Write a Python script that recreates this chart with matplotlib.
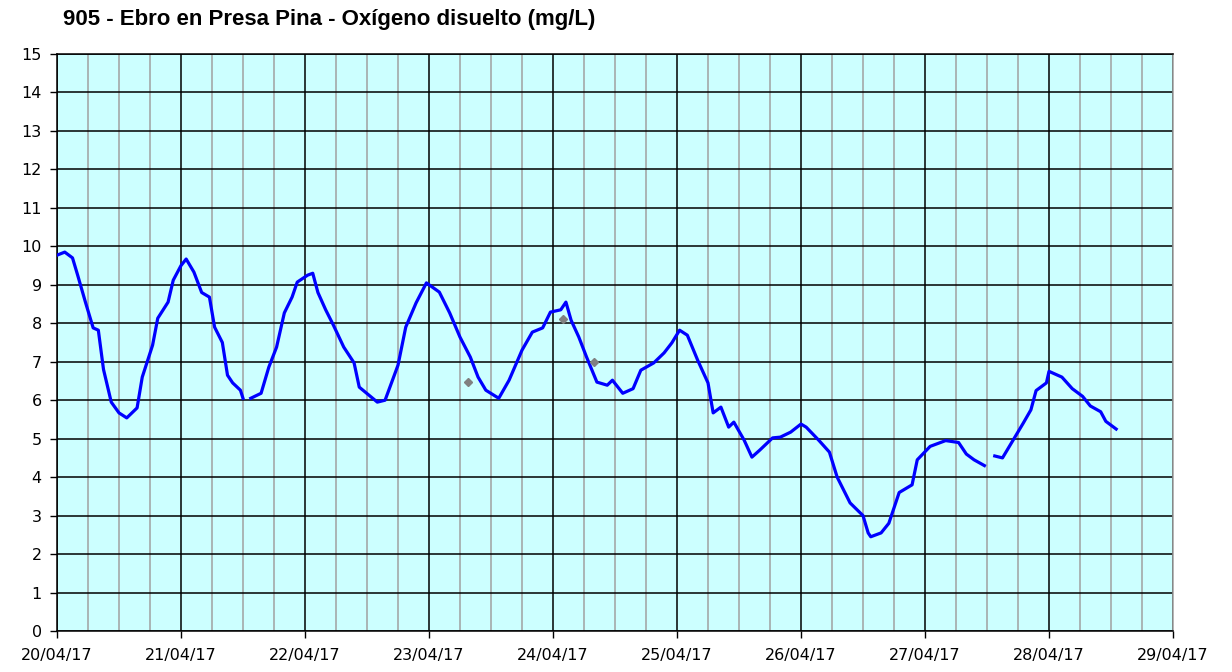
import numpy as np
import pandas as pd
import matplotlib
matplotlib.use('Agg')
import matplotlib.pyplot as plt
import matplotlib.dates as mdates

# Horas desde 20/04/17 00:00 y oxígeno disuelto (mg/L); NaN = hueco en la serie
horas = [0, 1.5, 3, 4, 5.5, 7, 8, 9, 10.5, 12, 13.5, 15.5, 16.5, 18.5, 19.5, 21.5, 22.5,
         24, 25, 26.5, 28, 29.5, 30.5, 32, 33, 34, 35.5, 36, 37,
         37.5, 39.5, 41, 42.5, 44, 45.5, 46.5, 48.5, 49.5, 50.5, 52, 53.5, 55.5, 57.5, 58.5,
         62, 63.5, 66, 67.5, 69.5, 71.5, 74, 76, 78, 80, 81.5, 83, 85.5, 87.5, 90, 92, 94,
         95.5, 97.5, 98.5, 99.5, 101, 102.5, 104.5, 106.5, 107.5, 109.5, 111.5, 113, 115.5,
         117.5, 119, 120.5, 122, 124, 126, 127, 128.5, 130, 131, 133, 134.5, 136, 138.5, 140,
         142, 144, 145, 147.5, 149.5, 151, 153.5, 156, 157, 157.5, 159.5, 161, 162.5, 163,
         165.5, 166.5, 169, 171, 172, 174.5, 176, 177.5, 179.5, 180.5,
         181.5, 183, 185, 187, 188.5, 189.5, 191.5, 192, 194.5, 196.5, 198.5, 200, 202, 203, 205]
oxigeno = [9.77, 9.85, 9.7, 9.25, 8.55, 7.88, 7.82, 6.8, 5.95, 5.67, 5.54, 5.8, 6.6, 7.43, 8.13, 8.55, 9.12,
           9.5, 9.67, 9.33, 8.8, 8.68, 7.9, 7.5, 6.65, 6.45, 6.26, 6.05, np.nan,
           6.05, 6.18, 6.86, 7.38, 8.27, 8.68, 9.07, 9.25, 9.3, 8.8, 8.35, 7.95, 7.38, 6.97, 6.34,
           5.95, 6.0, 6.91, 7.9, 8.53, 9.05, 8.81, 8.27, 7.64, 7.12, 6.6, 6.26, 6.05, 6.52, 7.3, 7.77, 7.88,
           8.29, 8.35, 8.55, 8.08, 7.64, 7.12, 6.47, 6.39, 6.52, 6.18, 6.3, 6.78, 6.97,
           7.23, 7.49, 7.82, 7.69, 7.04, 6.45, 5.67, 5.82, 5.3, 5.43, 4.96, 4.52, 4.7, 5.02, 5.04,
           5.17, 5.38, 5.3, 4.95, 4.65, 4.0, 3.33, 3.0, 2.55, 2.45, 2.55, 2.8, 3.4, 3.6,
           3.8, 4.45, 4.8, 4.9, 4.95, 4.9, 4.6, 4.45, 4.3, np.nan,
           4.55, 4.5, 4.95, 5.4, 5.75, 6.25, 6.45, 6.75, 6.6, 6.3, 6.1, 5.85, 5.7, 5.45, 5.25]

# Puntos sueltos (gris)
horas_sueltas = [79.5, 98, 104]
oxigeno_sueltos = [6.47, 8.1, 7.0]

titulo = '905 - Ebro en Presa Pina - Oxígeno disuelto (mg/L)'
inicio = pd.Timestamp('2017-04-20')
fin = pd.Timestamp('2017-04-29')

t = inicio + pd.to_timedelta(horas, unit='h')
t_sueltas = inicio + pd.to_timedelta(horas_sueltas, unit='h')

fig = plt.figure(figsize=(12.32, 6.72), dpi=100)
ax = fig.add_axes([57 / 1232, 41 / 672, 1116 / 1232, 577 / 672])
ax.set_facecolor('#CCFFFF')

ax.plot(t, oxigeno, color='#0000FF', lw=2.3, zorder=3)
ax.plot(t_sueltas, oxigeno_sueltos, ls='none', marker='D', ms=4.5, color='#808080', zorder=4)

ax.set_xlim(inicio, fin)
ax.set_ylim(0, 15)
ax.set_yticks(range(0, 16))

ax.xaxis.set_major_locator(mdates.DayLocator())
ax.xaxis.set_major_formatter(mdates.DateFormatter('%d/%m/%y'))
ax.xaxis.set_minor_locator(mdates.HourLocator(byhour=[6, 12, 18]))

ax.grid(which='major', axis='both', color='black', lw=1.1, zorder=1)
ax.grid(which='minor', axis='x', color='#A0A0A0', lw=1.1, zorder=1)
ax.set_axisbelow(True)

ax.tick_params(axis='both', which='major', length=5, width=1, labelsize=11.5, colors='black')
ax.tick_params(axis='x', which='minor', length=0)
ax.tick_params(axis='x', pad=7)
ax.tick_params(axis='y', pad=6)

for s in ['left', 'bottom', 'top']:
    ax.spines[s].set_color('black')
    ax.spines[s].set_linewidth(1.1)
ax.spines['right'].set_color('#A0A0A0')
ax.spines['right'].set_linewidth(1.1)

fig.text(63 / 1232, 1 - 19 / 672, titulo, fontsize=16, fontweight='bold',
         family='Liberation Sans', ha='left', va='center')

fig.savefig('out.png', dpi=100)
